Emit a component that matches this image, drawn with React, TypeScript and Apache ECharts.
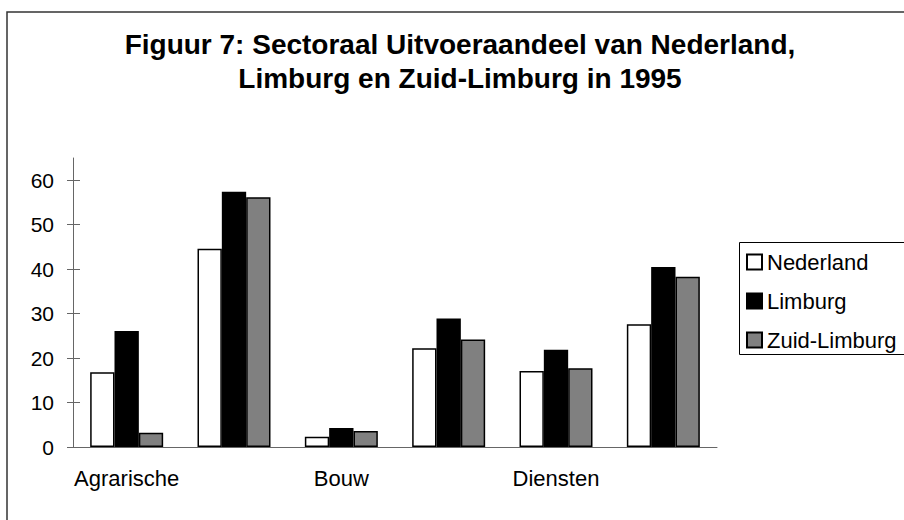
import React, { useEffect, useRef } from "react";
import * as echarts from "echarts";

const titleLines = [
  "Figuur 7: Sectoraal Uitvoeraandeel van Nederland,",
  "Limburg en Zuid-Limburg in 1995",
];
const categories = ["Agrarische", "", "Bouw", "", "Diensten", ""];
const seriesNames = ["Nederland", "Limburg", "Zuid-Limburg"];
const nederland = [16.8, 44.6, 2.3, 22.2, 17.1, 27.6];
const limburg = [26.1, 57.4, 4.3, 28.9, 21.9, 40.5];
const zuidLimburg = [3.2, 56.2, 3.6, 24.2, 17.7, 38.3];
const yTicks = [0, 10, 20, 30, 40, 50, 60];
const seriesColors = ["#ffffff", "#000000", "#808080"];

const FONT = "'Liberation Sans', Arial, sans-serif";
const AXIS_COLOR = "#666666";

export default function App() {
  const ref = useRef<HTMLDivElement>(null);
  useEffect(() => {
    if (!ref.current) return;
    const chart = echarts.init(ref.current, undefined, { renderer: "svg" });
    const values = [nederland, limburg, zuidLimburg];
    chart.setOption({
      animation: false,
      backgroundColor: "#ffffff",
      textStyle: { fontFamily: FONT },
      graphic: [
        {
          type: "rect",
          shape: { x: 7, y: 12, width: 920, height: 540 },
          style: { fill: "none", stroke: "#333333", lineWidth: 1.5 },
          z: -1,
        },
        {
          type: "polyline",
          shape: { points: [[910, 242.5], [739.5, 242.5], [739.5, 354.5], [910, 354.5]] },
          style: { fill: "none", stroke: "#000000", lineWidth: 1 },
          z: -1,
        },
        {
          type: "text",
          x: 460,
          y: 27,
          style: {
            text: titleLines.join("\n"),
            font: `bold 28px ${FONT}`,
            fill: "#000000",
            align: "center",
            lineHeight: 34,
          },
        },
      ],
      legend: {
        orient: "vertical",
        left: 739,
        top: 242,
        padding: [9, 0, 6, 7],
        itemGap: 17,
        itemWidth: 15,
        itemHeight: 15,
        borderWidth: 0,
        icon: "rect",
        textStyle: { fontSize: 22, color: "#000000", fontFamily: FONT },
        data: seriesNames,
      },
      grid: { left: 73, right: 187, top: 158, bottom: 73 },
      xAxis: [
        {
          type: "category",
          data: categories,
          position: "bottom",
          axisLine: { onZero: false, lineStyle: { color: AXIS_COLOR, width: 1 } },
          axisTick: { length: 5, lineStyle: { color: AXIS_COLOR } },
          axisLabel: { interval: 0, margin: 20, fontSize: 22, color: "#000000", fontFamily: FONT },
        },
        {
          type: "category",
          data: categories,
          position: "top",
          offset: -289,
          axisLine: { show: false, onZero: false },
          axisTick: { length: 5, lineStyle: { color: AXIS_COLOR } },
          axisLabel: { show: false },
        },
      ],
      yAxis: [
        {
          type: "value",
          min: 0,
          max: 65,
          interval: 10,
          position: "left",
          axisLine: { show: true, lineStyle: { color: AXIS_COLOR, width: 1 } },
          axisTick: { show: true, length: 6, customValues: yTicks, lineStyle: { color: AXIS_COLOR } },
          axisLabel: { customValues: yTicks, margin: 19, fontSize: 21, color: "#000000", fontFamily: FONT },
          splitLine: { show: false },
        },
        {
          type: "value",
          min: 0,
          max: 65,
          interval: 10,
          position: "right",
          offset: -644,
          axisLine: { show: false },
          axisTick: { show: true, length: 7, customValues: yTicks, lineStyle: { color: AXIS_COLOR } },
          axisLabel: { show: false },
          splitLine: { show: false },
        },
      ],
      series: seriesNames.map((name, i) => ({
        name,
        type: "bar",
        xAxisIndex: 0,
        yAxisIndex: 0,
        data: values[i],
        barGap: "0%",
        barCategoryGap: "32%",
        itemStyle: { color: seriesColors[i], borderColor: "#000000", borderWidth: 1.5 },
      })),
    });
    return () => chart.dispose();
  }, []);
  return <div ref={ref} style={{ width: 904, height: 520, position: "absolute", left: 0, top: 0 }} />;
}
